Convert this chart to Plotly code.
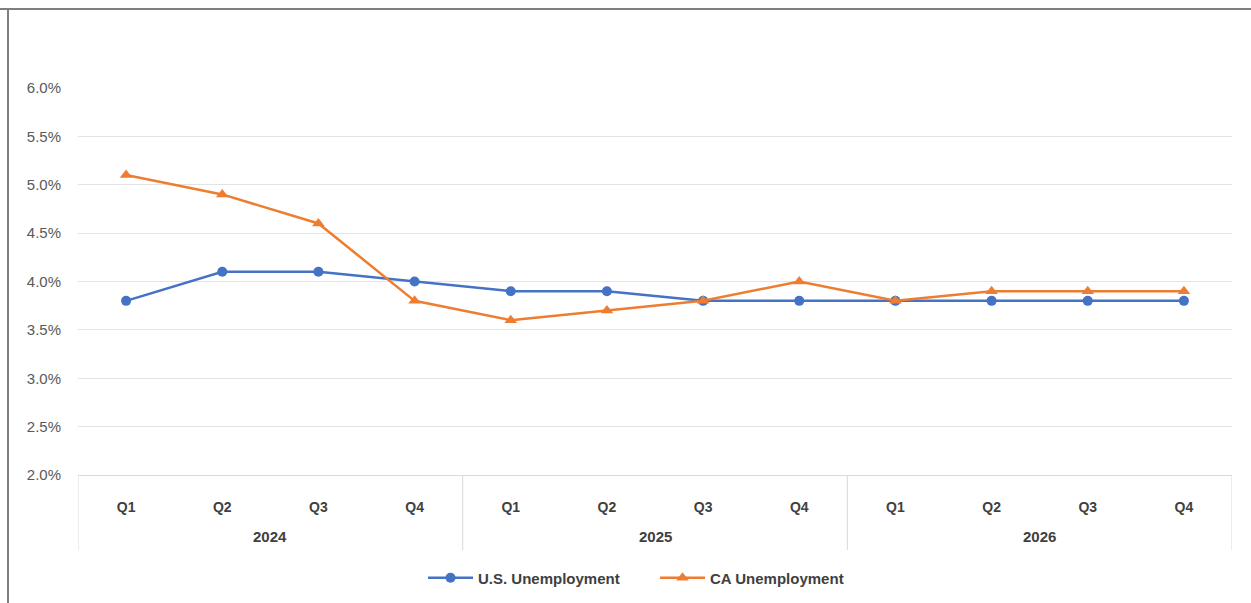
import plotly.graph_objects as go

years = ["2024"] * 4 + ["2025"] * 4 + ["2026"] * 4
quarters = ["Q1", "Q2", "Q3", "Q4"] * 3
us_unemp = [3.8, 4.1, 4.1, 4.0, 3.9, 3.9, 3.8, 3.8, 3.8, 3.8, 3.8, 3.8]
ca_unemp = [5.1, 4.9, 4.6, 3.8, 3.6, 3.7, 3.8, 4.0, 3.8, 3.9, 3.9, 3.9]
y_ticks = [2.0, 2.5, 3.0, 3.5, 4.0, 4.5, 5.0, 5.5, 6.0]

cats = [f"{y} {q}" for y, q in zip(years, quarters)]
FONT = "Liberation Sans, Arial, sans-serif"
PLOT_H = 603 - 88 - 128

fig = go.Figure()
fig.add_trace(go.Scatter(
    x=cats, y=us_unemp, name="U.S. Unemployment",
    mode="lines+markers",
    line=dict(color="#4472C4", width=2.5),
    marker=dict(symbol="circle", size=10, color="#4472C4"),
))
fig.add_trace(go.Scatter(
    x=cats, y=ca_unemp, name="CA Unemployment",
    mode="lines+markers",
    line=dict(color="#ED7D31", width=2.5),
    marker=dict(symbol="triangle-up", size=11, color="#ED7D31"),
))

fig.update_layout(
    width=1251, height=603,
    margin=dict(l=78, r=19, t=88, b=128, autoexpand=False),
    paper_bgcolor="white", plot_bgcolor="white",
    font=dict(family=FONT, color="#595959", size=12),
    showlegend=True,
    legend=dict(orientation="h", x=0.5, xanchor="center", y=-(578 - 475) / PLOT_H, yanchor="middle",
                font=dict(size=15, color="#404040", family=FONT, weight="bold"),
                traceorder="normal", itemwidth=45, entrywidth=172),
    xaxis=dict(
        type="category", categoryorder="array", categoryarray=cats,
        tickvals=cats, ticktext=quarters,
        showgrid=False, showline=True, linecolor="#D9D9D9", linewidth=1,
        tickfont=dict(size=14, color="#404040", family=FONT, weight="bold"),
        ticks="", range=[-0.5, len(cats) - 0.5],
        ticklabelstandoff=19,
    ),
    yaxis=dict(
        range=[2.0, 6.0], tickvals=y_ticks,
        ticktext=[f"{v:.1f}%" for v in y_ticks],
        showgrid=True, gridcolor="#E3E3E3", gridwidth=1,
        zeroline=False, showline=False, ticks="",
        tickfont=dict(size=15, color="#595959", family=FONT),
        ticklabelstandoff=16,
    ),
)

# year group labels and dividers
unique_years = list(dict.fromkeys(years))
for yr in unique_years:
    idx = [i for i, v in enumerate(years) if v == yr]
    center = sum(idx) / len(idx)
    fig.add_annotation(x=center, y=-(536 - 475) / PLOT_H, xref="x", yref="paper",
                       text=yr, showarrow=False, yanchor="middle",
                       font=dict(size=15, color="#404040", family=FONT, weight="bold"))
    for edge in (idx[0] - 0.5,) + ((idx[-1] + 0.5,) if yr == unique_years[-1] else ()):
        fig.add_shape(type="line", xref="x", yref="paper", x0=edge, x1=edge,
                      y0=0, y1=-(550 - 475) / PLOT_H, line=dict(color="#D9D9D9", width=1))

# outer chart border (top and left)
fig.add_shape(type="line", xref="paper", yref="paper", x0=-78/1154, x1=(1251-78)/1154,
              y0=1 + 79/PLOT_H, y1=1 + 79/PLOT_H, line=dict(color="#7F7F7F", width=2))
fig.add_shape(type="line", xref="paper", yref="paper", x0=-70/1154, x1=-70/1154,
              y0=1 + 79/PLOT_H, y1=-128/PLOT_H, line=dict(color="#7F7F7F", width=2))

fig.write_html("out.html")
